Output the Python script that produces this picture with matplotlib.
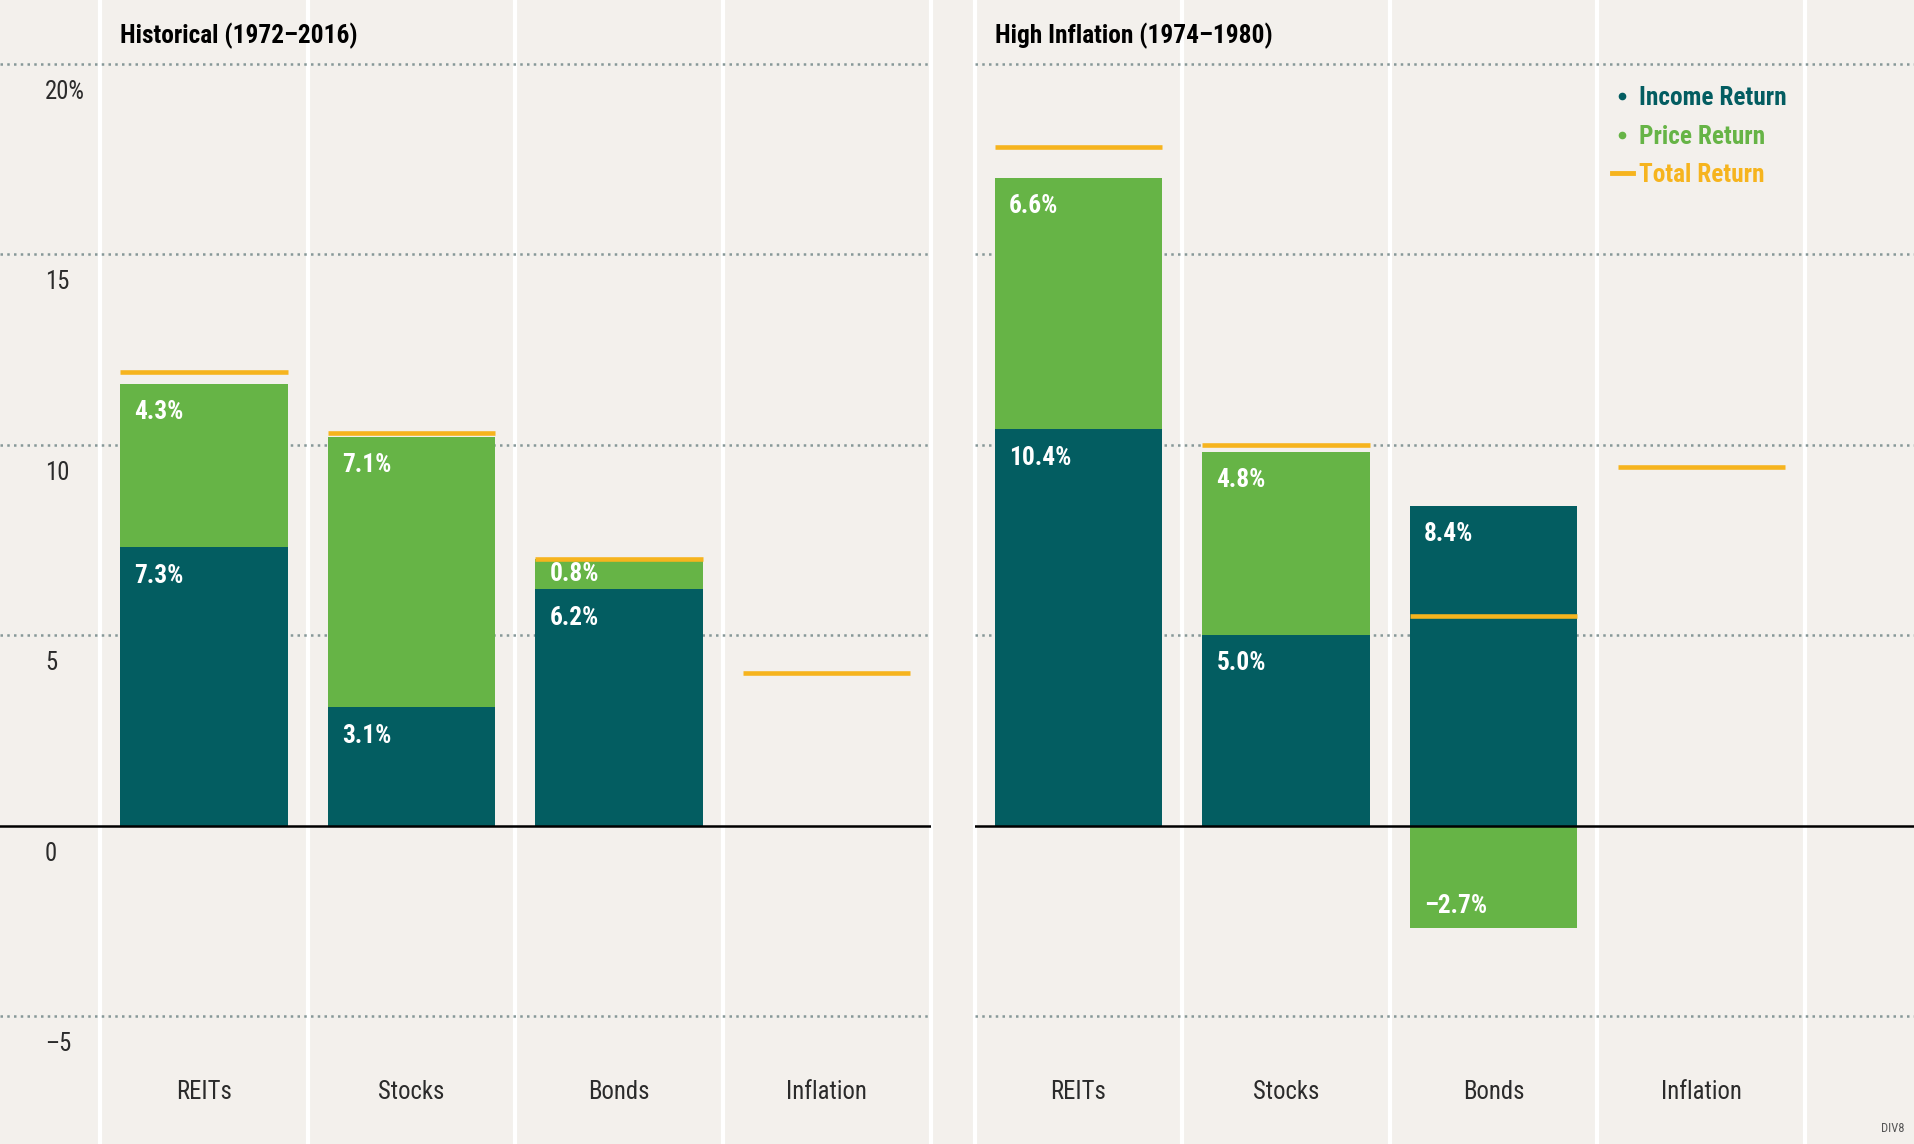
import numpy as np
import matplotlib
matplotlib.use('Agg')
import matplotlib.pyplot as plt
from matplotlib.lines import Line2D
from matplotlib import font_manager

categories = ['REITs', 'Stocks', 'Bonds', 'Inflation']
panel_titles = ['Historical (1972\u20132016)', 'High Inflation (1974\u20131980)']
hist_income = [7.3, 3.1, 6.2, np.nan]
hist_price = [4.3, 7.1, 0.8, np.nan]
hist_total = [11.9, 10.3, 7.0, 4.0]
infl_income = [10.4, 5.0, 8.4, np.nan]
infl_price = [6.6, 4.8, -2.7, np.nan]
infl_total = [17.8, 10.0, 5.5, 9.4]
ytick_values = [20, 15, 10, 5, 0, -5]
ytick_labels = ['20%', '15', '10', '5', '0', '\u20135']
legend_labels = ['Income Return', 'Price Return', 'Total Return']
footnote = 'DIV8'

names = {f.name for f in font_manager.fontManager.ttflist}
cands = ['Roboto Condensed', 'Liberation Sans Narrow', 'Open Sans Condensed',
         'Roboto', 'Liberation Sans', 'DejaVu Sans']
FAM = [n for n in cands if n in names] or ['DejaVu Sans']
plt.rcParams['font.family'] = FAM

BG = '#f3f0ec'
TEAL = '#035d61'
GREEN = '#66b446'
ORANGE = '#f6b41e'
GRID = '#869898'
TXT = '#2b2b2b'

fig = plt.figure(figsize=(19.15, 11.44), dpi=100, facecolor=BG)

# pick a font size so the title width matches the reference (~238 px)
renderer = fig.canvas.get_renderer()
probe = fig.text(0, 0, panel_titles[0], fontsize=19, fontweight='bold')
pw = probe.get_window_extent(renderer=renderer).width
probe.remove()
K = min(1.0, 238.0 / pw)
FS_BIG = 19 * K
FS_LAB = 19 * K
FS_TXT = 18.5 * K

axL = fig.add_axes([0, 0, 762 / 1568, 1])
axR = fig.add_axes([798 / 1568, 0, 1 - 798 / 1568, 1])

YLIM = (-8.357, 21.67)
W = 0.806

def seg_label_y(base, val):
    if abs(val) < 1.5:
        return base + val / 2
    if val >= 0:
        return base + val - 0.74
    return base + val + 0.6

def panel(ax, income, price, total, title, xlim):
    ax.set_facecolor(BG)
    ax.set_xlim(*xlim)
    ax.set_ylim(*YLIM)
    ax.axis('off')
    x = np.arange(len(categories))
    for s in np.arange(-0.5, len(categories), 1.0):
        ax.axvline(s, color='white', lw=3, zorder=0.5, clip_on=False)
    for g in [20, 15, 10, 5, -5]:
        ax.axhline(g, color=GRID, lw=1.8, linestyle=(0, (1, 1.7)), zorder=1)
    inc = np.array(income, float)
    pr = np.array(price, float)
    ax.bar(x, inc, width=W, color=TEAL, zorder=2)
    bottoms = np.where(pr >= 0, inc, 0)
    ax.bar(x, pr, width=W, bottom=bottoms, color=GREEN, zorder=2)
    ax.axhline(0, color='black', lw=1.8, zorder=3)
    ax.hlines(total, x - W / 2, x + W / 2, color=ORANGE, lw=3.3, zorder=4)
    for i in x:
        if np.isnan(inc[i]):
            continue
        ax.text(i - 0.335, seg_label_y(0, inc[i]), f'{inc[i]:.1f}%', color='white',
                fontsize=FS_LAB, fontweight='bold', ha='left', va='center', zorder=5)
        lab = f'{abs(pr[i]):.1f}%'
        if pr[i] < 0:
            lab = '\u2013' + lab
        ax.text(i - 0.335, seg_label_y(bottoms[i], pr[i]), lab, color='white',
                fontsize=FS_LAB, fontweight='bold', ha='left', va='center', zorder=5)
    for i, c in enumerate(categories):
        ax.text(i, -7.0, c, color=TXT, fontsize=FS_TXT, ha='center', va='center')
    ax.text(-0.403, 20.74, title, color='black', fontsize=FS_BIG,
            fontweight='bold', ha='left', va='center')

panel(axL, hist_income, hist_price, hist_total, panel_titles[0], (-0.982, 3.5))
panel(axR, infl_income, infl_price, infl_total, panel_titles[1], (-0.5, 4.03))

for v, l in zip(ytick_values, ytick_labels):
    axL.text(-0.765, v - 0.74, l, color=TXT, fontsize=FS_TXT, ha='left', va='center')

handles = [
    Line2D([], [], marker='o', linestyle='none', color=TEAL, markersize=4.5),
    Line2D([], [], marker='o', linestyle='none', color=GREEN, markersize=4.5),
    Line2D([], [], color=ORANGE, lw=3.5),
]
leg = axR.legend(handles, legend_labels, loc='upper left', bbox_to_anchor=(0.678, 0.925),
                 frameon=False, labelcolor='linecolor', handlelength=0.8,
                 handletextpad=0.25, labelspacing=0.58, borderpad=0, borderaxespad=0,
                 prop={'family': FAM, 'weight': 'bold', 'size': FS_BIG})

fig.text(1559 / 1568, 1 - 924 / 937, footnote, color='#555555', fontsize=9,
         ha='right', va='center')

fig.savefig('out.png', dpi=100, facecolor=BG)
